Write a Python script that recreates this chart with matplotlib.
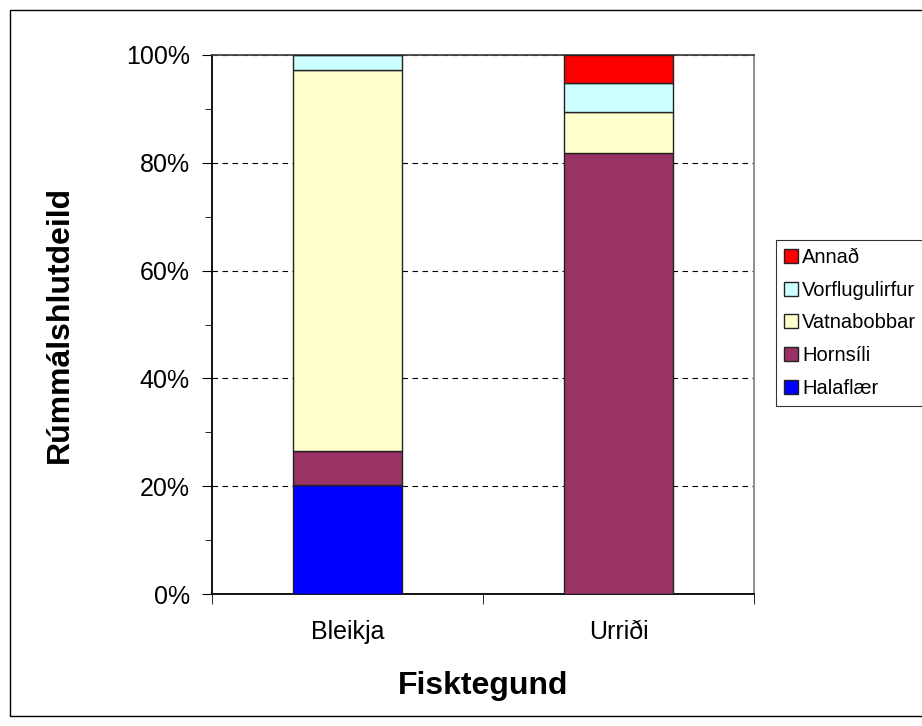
import numpy as np
import matplotlib.pyplot as plt
from matplotlib.patches import Rectangle
from matplotlib.ticker import MultipleLocator, PercentFormatter

plt.rcParams['font.family'] = ['Liberation Sans', 'DejaVu Sans']

fisktegund = ['Bleikja', 'Urriði']
# hlutdeild hverrar fæðugerðar í %, neðst og upp
flokkar = ['Halaflær', 'Hornsíli', 'Vatnabobbar', 'Vorflugulirfur', 'Annað']
halaflaer = [20.2, 0.0]
hornsili = [6.3, 81.9]
vatnabobbar = [70.8, 7.6]
vorflugulirfur = [2.7, 5.3]
annad = [0.0, 5.2]
litir = ['#0000ff', '#993366', '#ffffcc', '#ccffff', '#ff0000']

fig = plt.figure(figsize=(9.22, 7.26), dpi=100)
ax = fig.add_axes([212/922, 1 - 594/726, (754-212)/922, (594-55)/726])

x = np.arange(len(fisktegund))
botn = np.zeros(len(fisktegund))
for nafn, gildi, lit in zip(flokkar, [halaflaer, hornsili, vatnabobbar, vorflugulirfur, annad], litir):
    ax.bar(x, gildi, 0.4, bottom=botn, color=lit, edgecolor='#222222',
           linewidth=1.0, label=nafn, zorder=3)
    botn += np.array(gildi)

ax.set_xlim(-0.5, 1.5)
ax.set_ylim(0, 100)
ax.yaxis.set_major_locator(MultipleLocator(20))
ax.yaxis.set_minor_locator(MultipleLocator(10))
ax.yaxis.set_major_formatter(PercentFormatter(decimals=0))
ax.set_xticks(x)
ax.set_xticklabels(fisktegund, fontsize=18)
ax.set_xticks([-0.5, 0.5, 1.5], minor=True)
ax.tick_params(axis='x', which='major', length=0, pad=19)
ax.tick_params(axis='x', which='minor', length=7, direction='out')
ax.tick_params(axis='y', which='major', labelsize=18, length=7, direction='out', pad=9)
ax.tick_params(axis='y', which='minor', length=5, direction='out')
ax.grid(axis='y', which='major', color='black', linestyle=(0, (5, 4)), linewidth=0.8, zorder=0)
for s in ax.spines.values():
    s.set_linewidth(1.3)
ax.spines['top'].set_color('#444444')
ax.spines['right'].set_color('#888888')

ax.set_xlabel('Fisktegund', fontsize=23, fontweight='bold', labelpad=19)
ax.set_ylabel('Rúmmálshlutdeild', fontsize=23, fontweight='bold', labelpad=37)

h, l = ax.get_legend_handles_labels()
leg = fig.legend(h[::-1], l[::-1], loc='upper left', bbox_to_anchor=(776/922, 1 - 240/726),
                 fontsize=14.5, frameon=True, fancybox=False, edgecolor='black',
                 handlelength=0.7, handleheight=0.7, handletextpad=0.2,
                 labelspacing=0.68, borderpad=0.4, borderaxespad=0)
leg.get_frame().set_linewidth(0.8)

fig.patches.append(Rectangle((10/922, 10/726), 1.0, 1 - 20/726, transform=fig.transFigure,
                             fill=False, edgecolor='black', linewidth=1.0))

fig.savefig('out.png', dpi=100)
